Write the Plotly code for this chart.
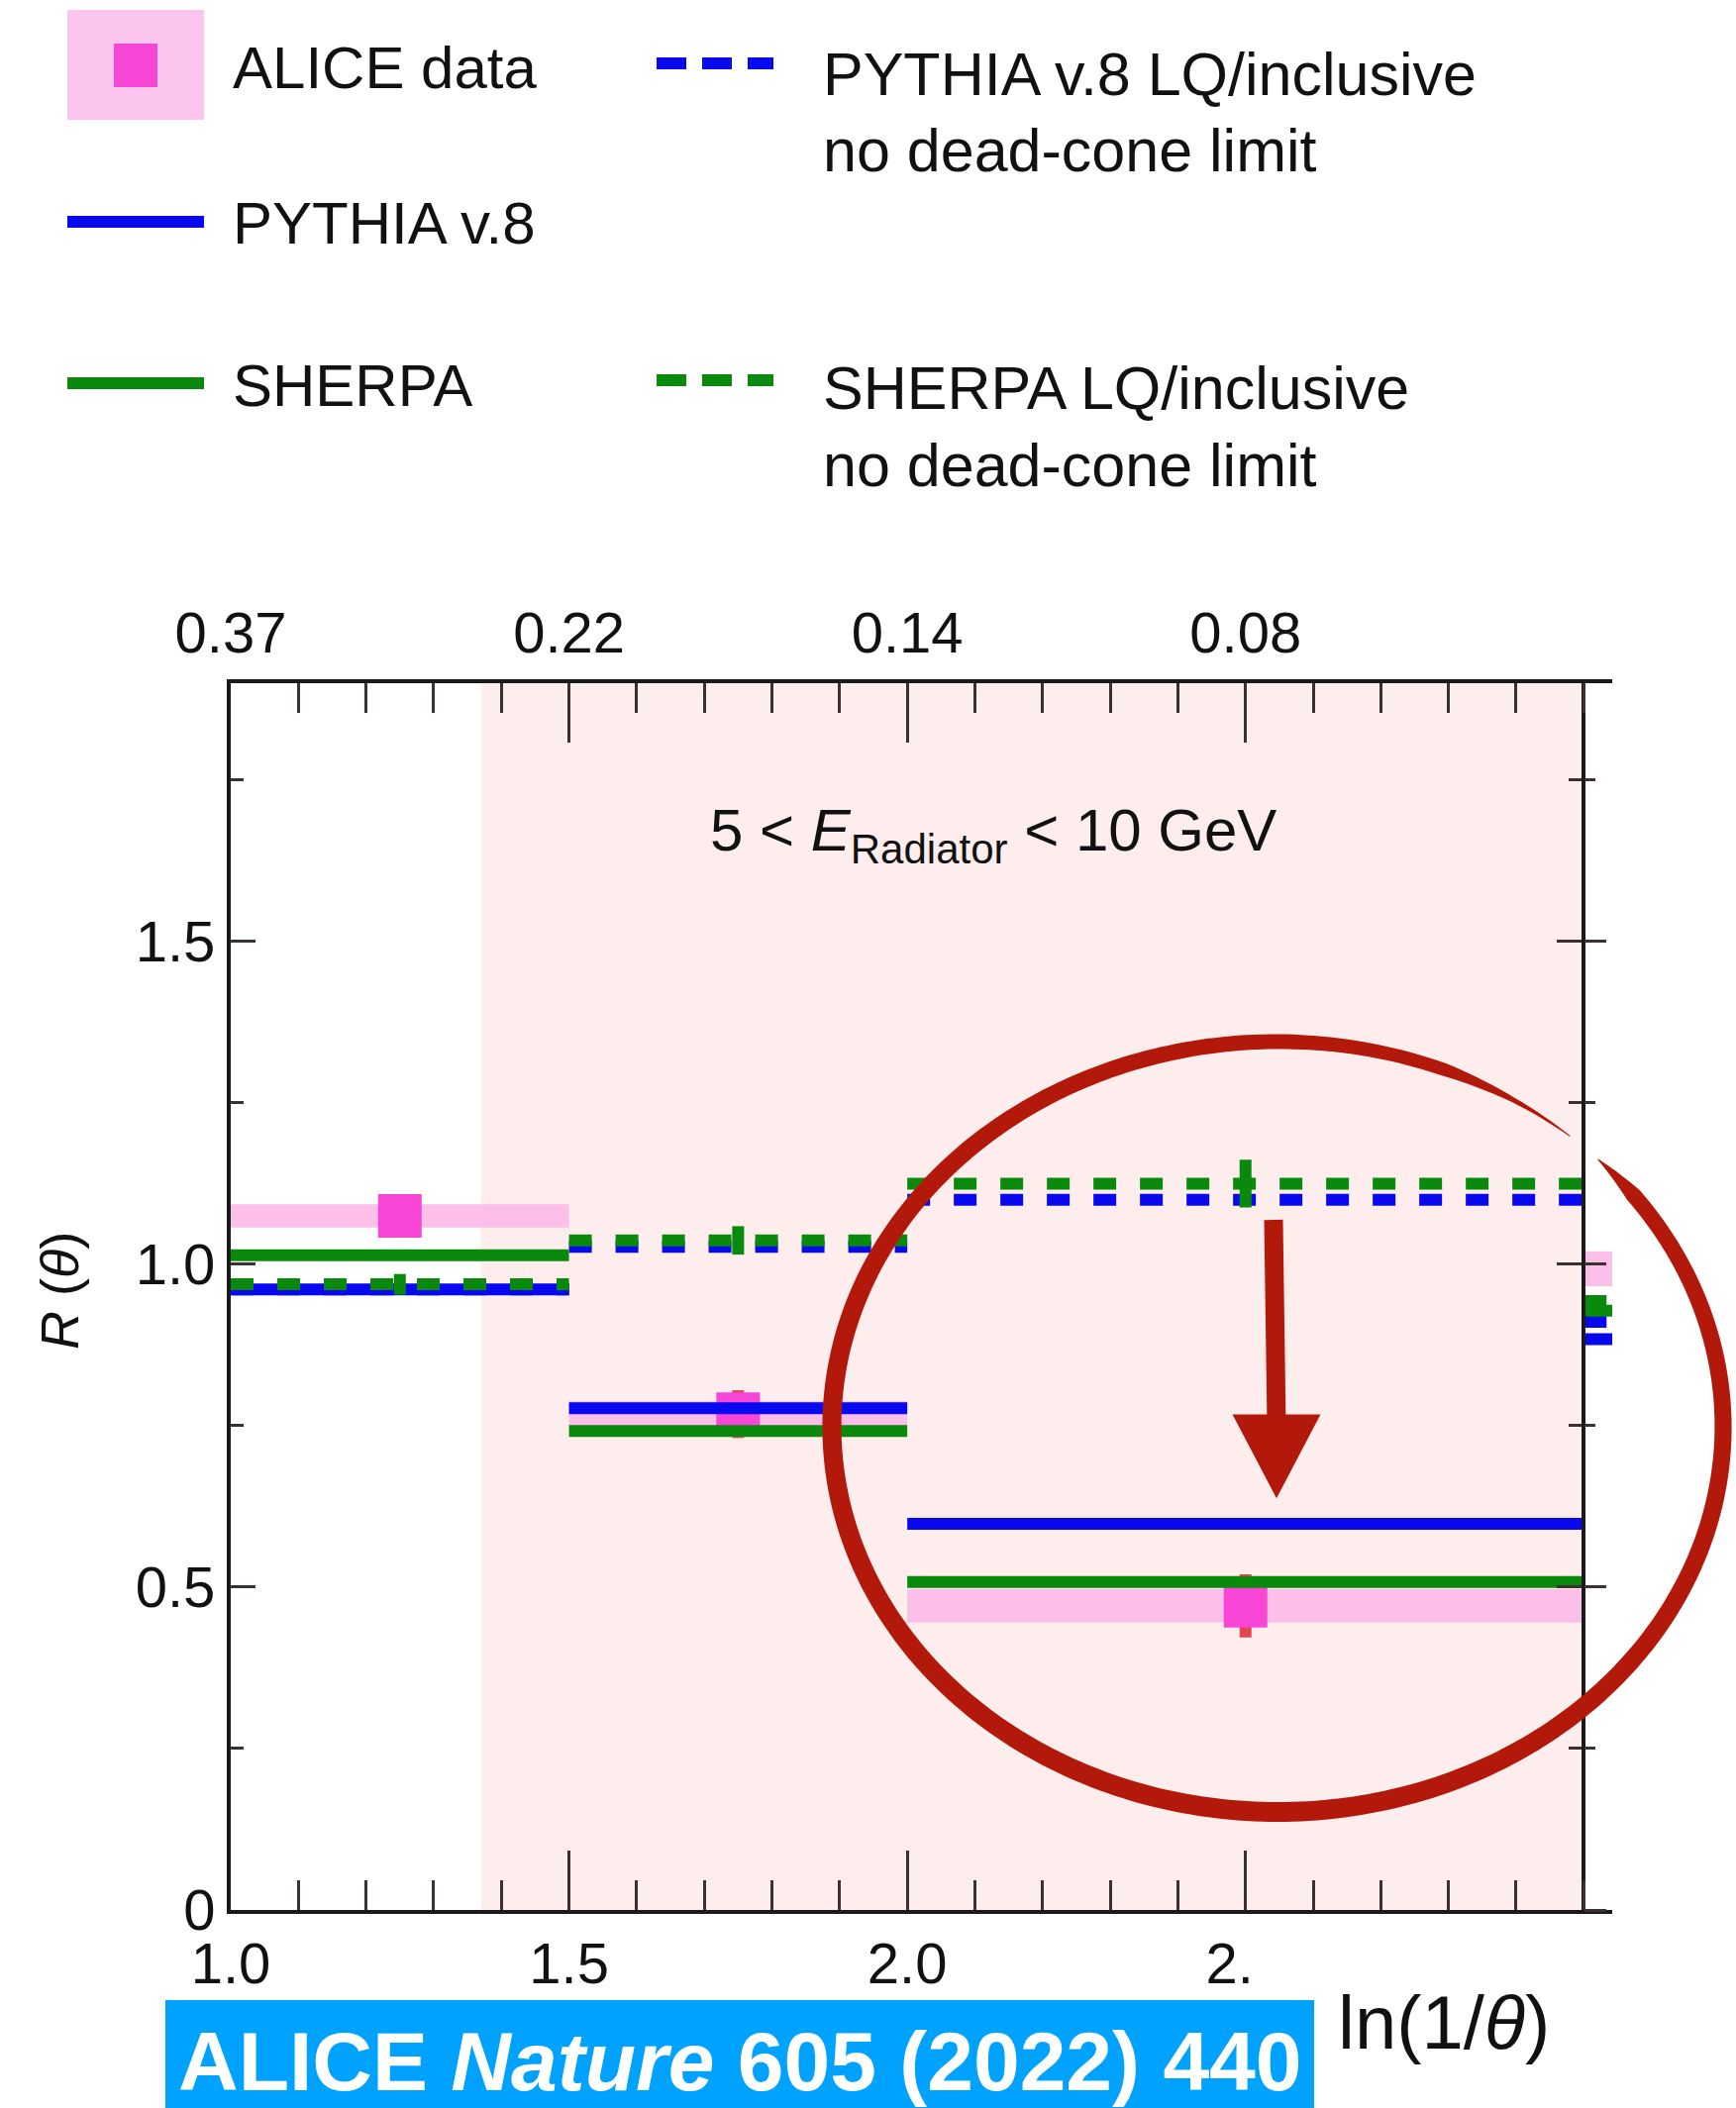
import math
import plotly.graph_objects as go

# ---- measurement: R(theta) in bins of ln(1/theta), 5 < E_Radiator < 10 GeV ----
bin_lo = [1.0, 1.5, 2.0]
bin_hi = [1.5, 2.0, 3.0]
alice = [1.075, 0.768, 0.471]
alice_sys = [0.018, 0.020, 0.026]
alice_stat = [0.020, 0.037, 0.049]
pythia = [0.961, 0.777, 0.598]
sherpa = [1.014, 0.742, 0.508]
pythia_lq = [0.961, 1.027, 1.100]
sherpa_lq = [0.969, 1.037, 1.125]
sherpa_lq_err = [0.016, 0.022, 0.037]

# first bin of the neighbouring energy interval, visible at the right edge
edge_lo, edge_hi = 3.0, 3.5
edge_alice, edge_alice_sys = 0.993, 0.027
edge_pythia, edge_sherpa = 0.884, 0.928
edge_pythia_lq, edge_sherpa_lq = 0.911, 0.943

dead_cone_from = 1.37          # start of the shaded dead-cone region
x_ticks = [1.0, 1.5, 2.0, 2.5]
x_ticktext = ["1.0", "1.5", "2.0", "2.\u00a0\u00a0"]
theta_ticktext = ["0.37", "0.22", "0.14", "0.08"]
y_ticks = [0, 0.5, 1.0, 1.5]
y_ticktext = ["0", "0.5", "1.0", "1.5"]

# ---- styling ----
FONT = "Liberation Sans, Arial, Helvetica, sans-serif"
INK = "#111111"
AXIS = "#1a1a1a"
TICK = "#3a3232"
BLUE = "#0808ee"
GREEN = "#0a8a0c"
BAND = "#fbbfe9"
MAGENTA = "#f846d6"
STAT = "#e4464f"
SHADE = "#fdeeed"
RED = "#b3190b"
CITE = "#00a2ff"
DASH = "23px,24px"
LW = 12

W, H = 1753, 2129
L, R, T, B = 233, 1628, 690, 1929
X_MAX = 3.042


def px(x):
    return (x - L) / (R - L)


def py(y):
    return (B - y) / (B - T)


def path(points, close=False):
    s = "M " + " L ".join(f"{px(a):.5f},{py(b):.5f}" for a, b in points)
    return s + (" Z" if close else "")


def steps(lo, hi, vals):
    xs, ys = [], []
    for a, b, v in zip(lo, hi, vals):
        xs += [a, b, None]
        ys += [v, v, None]
    return xs, ys


fig = go.Figure()

centres = [(a + b) / 2 for a, b in zip(bin_lo, bin_hi)]
widths = [b - a for a, b in zip(bin_lo, bin_hi)]

# systematic bands
fig.add_trace(go.Bar(
    x=centres + [(edge_lo + edge_hi) / 2],
    y=[2 * s for s in alice_sys] + [2 * edge_alice_sys],
    base=[v - s for v, s in zip(alice, alice_sys)] + [edge_alice - edge_alice_sys],
    width=widths + [edge_hi - edge_lo],
    marker=dict(color=BAND, line=dict(width=0)),
    showlegend=False, hoverinfo="skip"))

# data points with statistical errors
fig.add_trace(go.Scatter(
    x=centres, y=alice, mode="markers",
    marker=dict(symbol="square", size=44, color=MAGENTA, line=dict(width=0)),
    error_y=dict(type="data", array=alice_stat, color=STAT, thickness=12, width=0),
    showlegend=False))

# model curves
series = [
    (pythia_lq, edge_pythia_lq, BLUE, DASH),
    (pythia, edge_pythia, BLUE, "solid"),
    (sherpa, edge_sherpa, GREEN, "solid"),
    (sherpa_lq, edge_sherpa_lq, GREEN, DASH),
]
for vals, edge_val, col, dash in series:
    xs, ys = steps(bin_lo + [edge_lo], bin_hi + [edge_hi], vals + [edge_val])
    fig.add_trace(go.Scatter(x=xs, y=ys, mode="lines",
                             line=dict(color=col, width=LW, dash=dash),
                             showlegend=False, hoverinfo="skip"))

# statistical uncertainty of the SHERPA LQ/inclusive ratio
fig.add_trace(go.Scatter(
    x=centres, y=sherpa_lq, mode="markers",
    marker=dict(size=1, color=GREEN),
    error_y=dict(type="data", array=sherpa_lq_err, color=GREEN, thickness=12, width=0),
    showlegend=False))

# helper traces so the extra axes exist
fig.add_trace(go.Scatter(x=[], y=[], xaxis="x2", yaxis="y", showlegend=False))
fig.add_trace(go.Scatter(x=[], y=[], xaxis="x", yaxis="y2", showlegend=False))
fig.add_trace(go.Scatter(x=[], y=[], xaxis="x", yaxis="y3", showlegend=False))

tickfont = dict(family=FONT, size=58, color=INK)
xbase = dict(range=[1.0, X_MAX], showgrid=False, zeroline=False,
             showline=True, linewidth=4, linecolor=AXIS,
             ticks="inside", ticklen=60, tickwidth=3, tickcolor=TICK,
             tickmode="array", tickvals=x_ticks, tickfont=tickfont,
             minor=dict(dtick=0.1, tick0=1.0, ticks="inside", ticklen=30,
                        tickwidth=3, tickcolor=TICK, showgrid=False))
ybase = dict(range=[0, 1.9], showgrid=False, zeroline=False,
             tickmode="array", tickvals=y_ticks, tickwidth=3, tickcolor=TICK,
             minor=dict(dtick=0.25, tick0=0, tickwidth=3, tickcolor=TICK,
                        showgrid=False))

edge_pos = (3.0 - 1.0) / (X_MAX - 1.0)

fig.update_layout(
    width=W, height=H,
    margin=dict(l=L, r=W - R, t=T, b=H - B, pad=0),
    paper_bgcolor="white", plot_bgcolor="white",
    barmode="overlay",
    xaxis=dict(**xbase, ticktext=x_ticktext, side="bottom", anchor="y",
               ticklabelstandoff=0),
    xaxis2=dict(**xbase, ticktext=theta_ticktext, side="top", anchor="y",
                overlaying="x", ticklabelstandoff=4),
    yaxis=dict(**ybase, ticktext=y_ticktext, showline=True, linewidth=4,
               linecolor=AXIS, ticks="inside", ticklen=25, tickfont=tickfont,
               ticklabelstandoff=0),
    yaxis2=dict(**ybase, overlaying="y", anchor="free", position=edge_pos,
                side="right", showline=True, linewidth=4, linecolor=AXIS,
                ticks="inside", ticklen=25, showticklabels=False),
    yaxis3=dict(**ybase, overlaying="y", anchor="free", position=edge_pos,
                side="right", showline=False, ticks="outside", ticklen=22,
                showticklabels=False),
    showlegend=False,
)
fig.update_layout(yaxis=dict(minor=dict(ticks="inside", ticklen=13)),
                  yaxis2=dict(minor=dict(ticks="inside", ticklen=13)),
                  yaxis3=dict(minor=dict(ticks="outside", ticklen=11)))

shapes = []
# dead-cone region
shapes.append(dict(type="rect", xref="x", yref="y", x0=dead_cone_from, x1=3.0,
                   y0=0, y1=1.9, fillcolor=SHADE, line=dict(width=0), layer="below"))

# legend symbols
shapes.append(dict(type="rect", xref="paper", yref="paper", x0=px(68), x1=px(206),
                   y0=py(121), y1=py(10), fillcolor="#fcc5ee", line=dict(width=0)))
shapes.append(dict(type="rect", xref="paper", yref="paper", x0=px(115), x1=px(159),
                   y0=py(88), y1=py(44), fillcolor=MAGENTA, line=dict(width=0)))
for yy, col, x0, x1, dash in [(224, BLUE, 68, 206, "solid"), (387, GREEN, 68, 206, "solid"),
                              (64, BLUE, 663, 781, "30px,16px"),
                              (384, GREEN, 663, 781, "30px,16px")]:
    shapes.append(dict(type="line", xref="paper", yref="paper", x0=px(x0), x1=px(x1),
                       y0=py(yy), y1=py(yy), line=dict(color=col, width=LW, dash=dash)))

# citation banner
shapes.append(dict(type="rect", xref="paper", yref="paper", x0=px(167), x1=px(1327),
                   y0=py(H), y1=py(2020), fillcolor=CITE, line=dict(width=0)))

# hand-drawn highlight ring around the last bin: a filled pen stroke that
# starts pointed at the upper right, runs round clockwise and tapers off
cx, cy, rx, ry = 1290, 1441, 450, 389
pen = [(44, 1), (37, 16), (-90, 20), (-200, 19), (-270, 15), (-292, 13),
       (-302, 5), (-311, 1)]


def pen_width(a):
    for (a0, w0), (a1, w1) in zip(pen, pen[1:]):
        if a1 <= a <= a0:
            return w0 + (w1 - w0) * (a0 - a) / (a0 - a1)
    return pen[-1][1]


outer, inner = [], []
n = 355
for i in range(n + 1):
    a = pen[0][0] + (pen[-1][0] - pen[0][0]) * i / n
    w = pen_width(a) / 2
    t = math.radians(a)
    outer.append((cx + (rx + w) * math.cos(t), cy - (ry + w) * math.sin(t)))
    inner.append((cx + (rx - w) * math.cos(t), cy - (ry - w) * math.sin(t)))
shapes.append(dict(type="path", xref="paper", yref="paper",
                   path=path(outer + inner[::-1], close=True),
                   fillcolor=RED, line=dict(width=0)))

shapes.append(dict(type="line", xref="paper", yref="paper", x0=px(1286), y0=py(1232),
                   x1=px(1289), y1=py(1440), line=dict(color=RED, width=19)))
shapes.append(dict(type="path", xref="paper", yref="paper",
                   path=path([(1247, 1430), (1331, 1430), (1289, 1510)], close=True),
                   fillcolor=RED, line=dict(color=RED, width=3)))

fig.update_layout(shapes=shapes)

ann = []


def text(x, y, s, size, xanchor="left", angle=0, color=INK):
    ann.append(dict(x=px(x), y=py(y), xref="paper", yref="paper", text=s,
                    showarrow=False, xanchor=xanchor, yanchor="middle",
                    textangle=angle, font=dict(family=FONT, size=size, color=color)))


# legend labels
text(233, 68, "ALICE data", 60)
text(233, 225, "PYTHIA v.8", 60)
text(233, 390, "SHERPA", 60)
text(829, 75, "PYTHIA v.8 LQ/inclusive", 61)
text(829, 152, "no dead-cone limit", 61)
text(829, 392, "SHERPA LQ/inclusive", 61)
text(829, 470, "no dead-cone limit", 61)

# panel label, axis titles, citation
text(1003, 843, "5 &lt; <i>E</i><sub>Radiator</sub> &lt; 10 GeV", 60, xanchor="center")
text(60, 1304, "<i>R</i> (<i>θ</i>)", 54, xanchor="center", angle=-90)
text(1458, 2042, "ln(1/<i>θ</i>)", 76, xanchor="center")
text(747, 2082, "<b>ALICE <i>Nature</i> 605 (2022) 440</b>", 84, xanchor="center",
     color="white")

fig.update_layout(annotations=ann)

fig.write_html("out.html")
